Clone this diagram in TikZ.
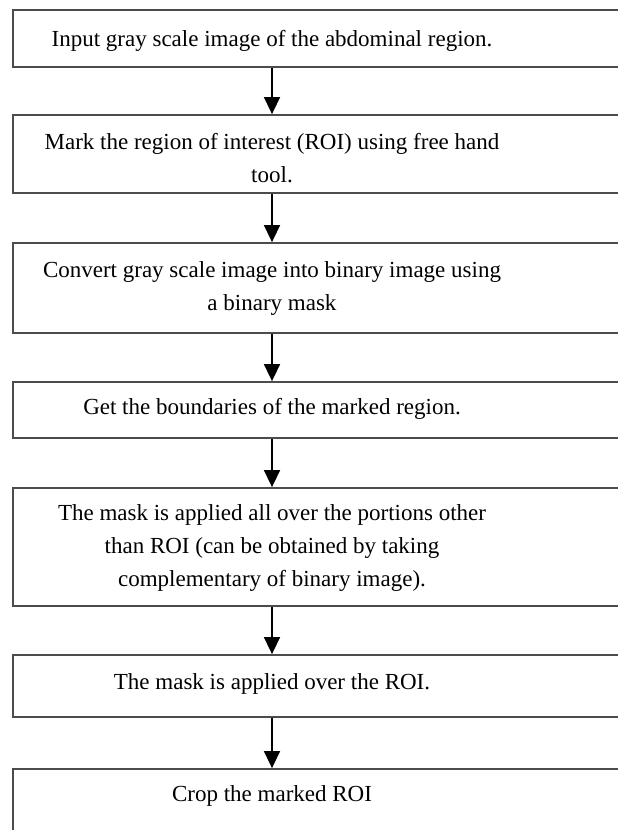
\documentclass[tikz,border=0pt]{standalone}
\usepackage{fontspec}
\setmainfont{Liberation Serif}
\usetikzlibrary{arrows.meta}

\tikzset{
  stagebox/.style={draw=black!70, line width=1.8pt, minimum width=612pt, inner sep=0pt},
  stagetext/.style={align=center, inner sep=0pt, font=\fontsize{23}{33}\selectfont},
  flow/.style={-{Triangle[width=16pt,length=17pt]}, line width=1.6pt}
}

\begin{document}
\begin{tikzpicture}[x=1pt,y=-1pt]
\def\xb{319}
\def\xt{272}
\useasboundingbox (0,0) rectangle (618,830);
\fill[white] (0,0) rectangle (618,830);
\clip (0,0) rectangle (618,830);

% boxes: number/centre/height
\foreach \n/\y/\h in {1/38.5/57, 2/154/78, 3/288/90, 4/410/56, 5/547/118, 6/686/62, 7/809.5/81}
  \node[stagebox, minimum height=\h pt] (b\n) at (\xb, \y) {};

\node[stagetext] (s1) at (\xt, 41) {Input gray scale image of the abdominal region.};
\node[stagetext] (s2) at (\xt, 158) {Mark the region of interest (ROI) using free hand\\tool.};
\node[stagetext] (s3) at (\xt, 288) {Convert gray scale image into binary image using\\a binary mask};
\node[stagetext] (s4) at (\xt, 409) {Get the boundaries of the marked region.};
\node[stagetext] (s5) at (\xt, 548) {The mask is applied all over the portions other\\than ROI (can be obtained by taking\\complementary of binary image).};
\node[stagetext] (s6) at (\xt, 684) {The mask is applied over the ROI.};
\node[stagetext] (s7) at (\xt, 796) {Crop the marked ROI};

\foreach \a/\b in {1/2, 2/3, 3/4, 4/5, 5/6, 6/7}
  \draw[flow] (s\a |- b\a.south) -- (s\b |- b\b.north);
\end{tikzpicture}
\end{document}
